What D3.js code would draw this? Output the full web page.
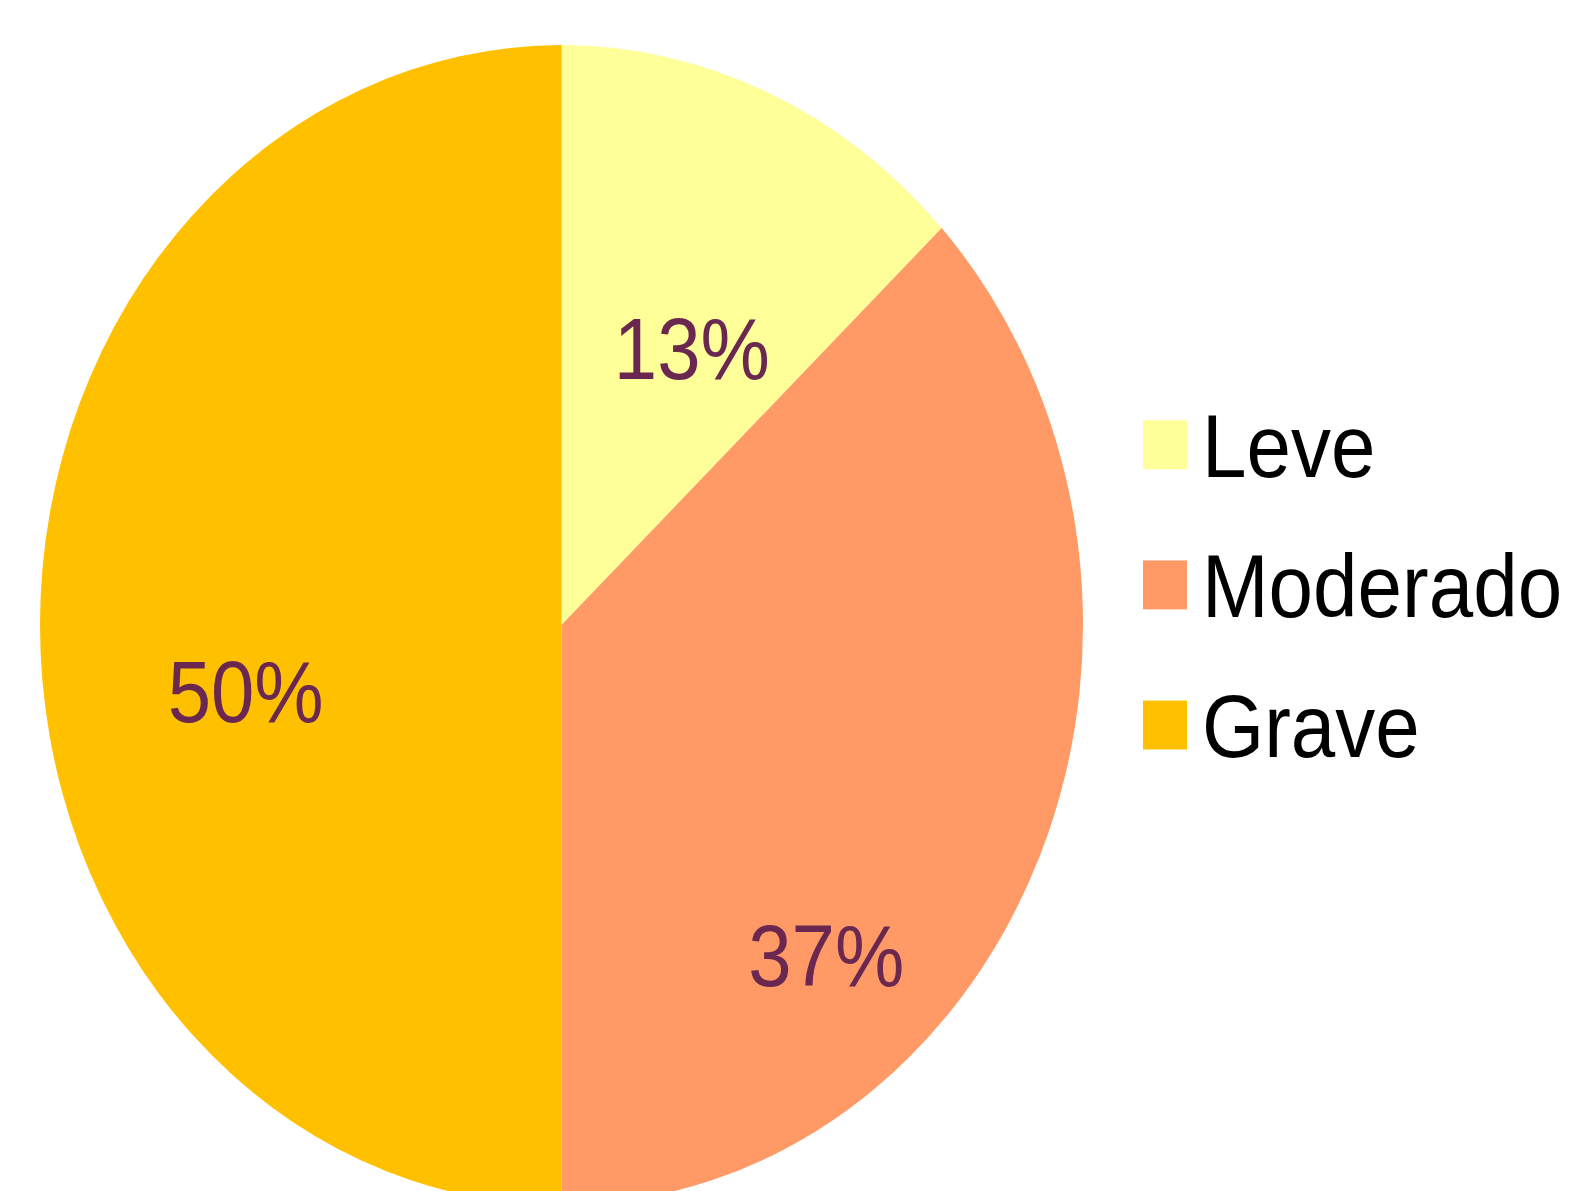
<!DOCTYPE html>
<html>
<head>
<meta charset="utf-8">
<script src="https://cdn.jsdelivr.net/npm/d3@7"></script>
<style>
  html, body { margin: 0; padding: 0; background: #ffffff; }
  svg { display: block; }
</style>
</head>
<body>
<script>
// ---- data ----
const categories = ["Leve", "Moderado", "Grave"];
const values = [13, 37, 50];
const labels = ["13%", "37%", "50%"];
const colors = ["#FFFF99", "#FF9966", "#FFC000"];

// ---- layout (not data) ----
const W = 1581, H = 1191;
const sy = 1.112;            // vertical stretch of the original picture
const R = 521.5;
const cx = 561.5, cy = 625 / sy;
const labelNudge = [[2, 48], [-32, 168], [7.5, 59]];

const svg = d3.select("body").append("svg")
  .attr("width", W).attr("height", H);

const root = svg.append("g").attr("transform", `scale(1,${sy})`);

const pie = d3.pie().sort(null).value(d => d)(values);
const arc = d3.arc().innerRadius(0).outerRadius(R);
const labelArc = d3.arc().innerRadius(R * 0.62).outerRadius(R * 0.62);
const color = d3.scaleOrdinal().domain(categories).range(colors);

const pg = root.append("g").attr("transform", `translate(${cx},${cy})`);

pg.selectAll("path").data(pie).join("path")
  .attr("d", arc)
  .attr("fill", (d, i) => color(categories[i]));

pg.selectAll("text").data(pie).join("text")
  .attr("x", (d, i) => labelArc.centroid(d)[0] + labelNudge[i][0])
  .attr("y", (d, i) => labelArc.centroid(d)[1] + labelNudge[i][1])
  .attr("dy", "0.358em")
  .attr("text-anchor", "middle")
  .attr("font-family", "'Liberation Sans', Arial, sans-serif")
  .attr("font-size", 78)
  .attr("fill", "#6a2850")
  .text((d, i) => labels[i]);

// ---- legend ----
const legendY = d3.scalePoint().domain(categories).range([429, 681]);
const lg = root.append("g");
const items = lg.selectAll("g").data(categories).join("g")
  .attr("transform", d => `translate(0,${legendY(d)})`);
items.append("rect")
  .attr("x", 1143).attr("y", -51)
  .attr("width", 44).attr("height", 44)
  .attr("fill", d => color(d));
items.append("text")
  .attr("x", 1202).attr("y", 0)
  .attr("font-family", "'Liberation Sans', Arial, sans-serif")
  .attr("font-size", 80)
  .attr("fill", "#000000")
  .text(d => d);
</script>
</body>
</html>
